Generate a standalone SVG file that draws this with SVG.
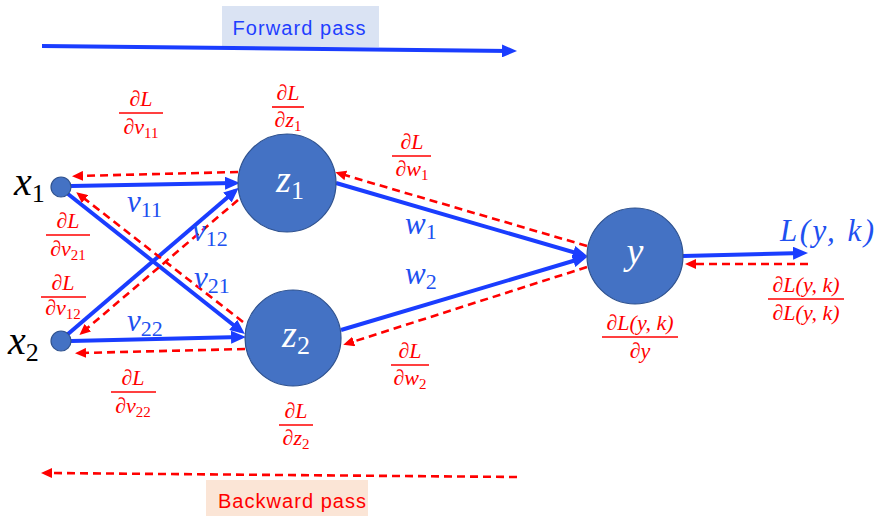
<svg xmlns="http://www.w3.org/2000/svg" width="876" height="516" viewBox="0 0 876 516">
<style>
.node{fill:#4472c4;stroke:#2f528f;stroke-width:1.2}
.fw{stroke:#1a3dff;stroke-width:4;fill:none;marker-end:url(#ab)}
.bw{stroke:#ff0000;stroke-width:2.6;fill:none;stroke-dasharray:8 5;marker-end:url(#ar)}
.m{font-family:"Liberation Serif","DejaVu Serif",serif;font-style:italic}
.fr{font-family:"Liberation Serif","DejaVu Serif",serif;font-style:italic;font-size:22px;fill:#ff0000;text-anchor:middle}
.sub{font-style:normal;font-size:15px}
.bar{stroke:#ff0000;stroke-width:1.6}
.lbl{font-family:"Liberation Serif","DejaVu Serif",serif;font-style:italic;font-size:31px;fill:#2050f0}
.lsub{font-style:normal;font-size:22px}
.nt{font-family:"Liberation Serif","DejaVu Serif",serif;font-style:italic;font-size:38px;fill:#ffffff;text-anchor:middle}
.nsub{font-style:normal;font-size:26px}
.cap{font-family:"Liberation Sans","Open Sans",sans-serif;font-size:20px;text-anchor:middle}
</style>
<defs>
<marker id="ab" markerUnits="userSpaceOnUse" markerWidth="15" markerHeight="13" refX="10" refY="6.5" orient="auto"><path d="M0,0 L15,6.5 L0,13 z" fill="#1a3dff"/></marker>
<marker id="ar" markerUnits="userSpaceOnUse" markerWidth="11" markerHeight="10" refX="5" refY="5" orient="auto"><path d="M0,0 L11,5 L0,10 z" fill="#ff0000"/></marker>
</defs>

<g id="forward-pass">
<rect x="222" y="6" width="157" height="41" fill="#dae3f3"/>
<text class="cap" x="299" y="35" fill="#1f3fff" textLength="133">Forward pass</text>
</g>
<g id="backward-pass">
<rect x="206" y="480" width="162" height="36" fill="#fbe5d6"/>
<text class="cap" x="292" y="508" fill="#ff0000" textLength="148">Backward pass</text>
</g>

<g id="connectors">
<line class="fw" x1="42" y1="46" x2="512" y2="51"/>
<line class="bw" x1="517" y1="477" x2="47" y2="473"/>
<line class="fw" x1="71" y1="186" x2="235" y2="183"/>
<line class="fw" x1="68" y1="194" x2="241" y2="331"/>
<line class="fw" x1="68" y1="334" x2="235" y2="191"/>
<line class="fw" x1="71" y1="341" x2="241" y2="337"/>
<line class="fw" x1="336" y1="183" x2="583" y2="255"/>
<line class="fw" x1="341" y1="330" x2="583" y2="258"/>
<line class="fw" x1="683" y1="256" x2="803" y2="253"/>
<line class="bw" x1="238" y1="172" x2="78" y2="176"/>
<line class="bw" x1="243" y1="322" x2="81" y2="196"/>
<line class="bw" x1="238" y1="200" x2="84" y2="331"/>
<line class="bw" x1="245" y1="349" x2="81" y2="353"/>
<line class="bw" x1="587" y1="246" x2="341" y2="174"/>
<line class="bw" x1="587" y1="267" x2="349" y2="343"/>
<line class="bw" x1="808" y1="264" x2="691" y2="264"/>
</g>

<g id="x1">
<circle class="node" cx="61" cy="187" r="10"/>
<text class="m" x="14" y="195" font-size="40" fill="#000">x<tspan class="nsub" dy="7">1</tspan></text>
</g>
<g id="x2">
<circle class="node" cx="61" cy="341" r="10"/>
<text class="m" x="8" y="354" font-size="40" fill="#000">x<tspan class="nsub" dy="7">2</tspan></text>
</g>
<g id="z1">
<circle class="node" cx="287" cy="183" r="49"/>
<text class="nt" x="290" y="192">z<tspan class="nsub" dy="7">1</tspan></text>
</g>
<g id="z2">
<circle class="node" cx="293" cy="338" r="48"/>
<text class="nt" x="296" y="347">z<tspan class="nsub" dy="7">2</tspan></text>
</g>
<g id="y">
<circle class="node" cx="635" cy="256" r="48"/>
<text class="nt" x="635" y="264">y</text>
</g>
<g id="L">
<text class="lbl" x="780" y="241" font-size="33" textLength="94">L(y, k)</text>
</g>

<g id="edge-labels">
<text class="lbl" x="127" y="212">v<tspan class="lsub" dy="5">11</tspan></text>
<text class="lbl" x="192" y="241">v<tspan class="lsub" dy="5">12</tspan></text>
<text class="lbl" x="194" y="288">v<tspan class="lsub" dy="5">21</tspan></text>
<text class="lbl" x="127" y="331">v<tspan class="lsub" dy="5">22</tspan></text>
<text class="lbl" x="405" y="234">w<tspan class="lsub" dy="5">1</tspan></text>
<text class="lbl" x="405" y="284">w<tspan class="lsub" dy="5">2</tspan></text>
</g>

<g id="gradients">
<g><text class="fr" x="141" y="106">∂L</text><line class="bar" x1="119" y1="113" x2="163" y2="113"/><text class="fr" x="141" y="134">∂v<tspan class="sub" dy="4">11</tspan></text></g>
<g><text class="fr" x="288" y="100">∂L</text><line class="bar" x1="272" y1="107" x2="304" y2="107"/><text class="fr" x="288" y="127">∂z<tspan class="sub" dy="4">1</tspan></text></g>
<g><text class="fr" x="412" y="149">∂L</text><line class="bar" x1="392" y1="156" x2="431" y2="156"/><text class="fr" x="412" y="176">∂w<tspan class="sub" dy="4">1</tspan></text></g>
<g><text class="fr" x="68" y="228">∂L</text><line class="bar" x1="46" y1="235" x2="90" y2="235"/><text class="fr" x="68" y="256">∂v<tspan class="sub" dy="4">21</tspan></text></g>
<g><text class="fr" x="63" y="290">∂L</text><line class="bar" x1="41" y1="297" x2="86" y2="297"/><text class="fr" x="63" y="315">∂v<tspan class="sub" dy="4">12</tspan></text></g>
<g><text class="fr" x="133" y="385">∂L</text><line class="bar" x1="111" y1="392" x2="156" y2="392"/><text class="fr" x="133" y="413">∂v<tspan class="sub" dy="4">22</tspan></text></g>
<g><text class="fr" x="296" y="418">∂L</text><line class="bar" x1="279" y1="425" x2="313" y2="425"/><text class="fr" x="296" y="445">∂z<tspan class="sub" dy="4">2</tspan></text></g>
<g><text class="fr" x="410" y="358">∂L</text><line class="bar" x1="391" y1="365" x2="429" y2="365"/><text class="fr" x="410" y="385">∂w<tspan class="sub" dy="4">2</tspan></text></g>
<g><text class="fr" x="640" y="330">∂L(y, k)</text><line class="bar" x1="602" y1="337" x2="678" y2="337"/><text class="fr" x="640" y="358">∂y</text></g>
<g><text class="fr" x="806" y="292">∂L(y, k)</text><line class="bar" x1="768" y1="299" x2="844" y2="299"/><text class="fr" x="806" y="320">∂L(y, k)</text></g>
</g>
</svg>
